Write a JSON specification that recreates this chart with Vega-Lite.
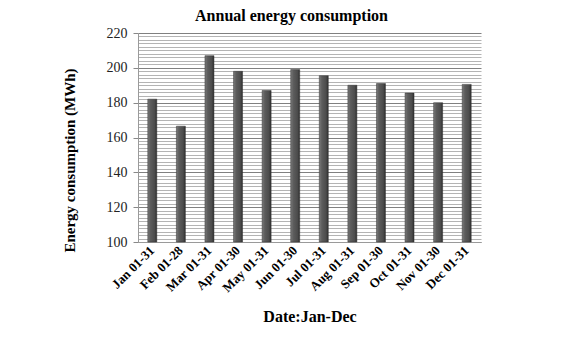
{
  "$schema": "https://vega.github.io/schema/vega-lite/v6.json",
  "width": 343,
  "height": 209,
  "autosize": {"type": "none"},
  "padding": {"left": 138, "top": 33, "right": 89, "bottom": 98},
  "background": "white",
  "title": {
    "text": "Annual energy consumption",
    "font": "Liberation Serif",
    "fontSize": 16,
    "fontWeight": "bold",
    "color": "#000000",
    "anchor": "middle",
    "dx": -18,
    "offset": 2
  },
  "data": {
    "values": [
      {"period": "Jan 01-31", "energy": 182},
      {"period": "Feb 01-28", "energy": 166.5},
      {"period": "Mar 01-31", "energy": 207},
      {"period": "Apr 01-30", "energy": 198},
      {"period": "May 01-31", "energy": 187},
      {"period": "Jun 01-30", "energy": 199},
      {"period": "Jul 01-31", "energy": 195.5},
      {"period": "Aug 01-31", "energy": 190},
      {"period": "Sep 01-30", "energy": 191},
      {"period": "Oct 01-31", "energy": 185.5},
      {"period": "Nov 01-30", "energy": 180},
      {"period": "Dec 01-31", "energy": 190.5}
    ]
  },
  "mark": {
    "type": "bar",
    "size": 9,
    "color": {
      "gradient": "linear",
      "x1": 0, "x2": 1, "y1": 0, "y2": 0,
      "stops": [
        {"offset": 0, "color": "#7a7a7a"},
        {"offset": 0.3, "color": "#5c5c5c"},
        {"offset": 0.75, "color": "#4c4c4c"},
        {"offset": 1, "color": "#2e2e2e"}
      ]
    },
    "stroke": "#333333",
    "strokeWidth": 0.5
  },
  "encoding": {
    "x": {
      "field": "period",
      "type": "nominal",
      "sort": null,
      "scale": {"paddingInner": 0, "paddingOuter": 0},
      "axis": {
        "title": "Date:Jan-Dec",
        "titleFont": "Liberation Serif",
        "titleFontSize": 16,
        "titleFontWeight": "bold",
        "titleColor": "#000000",
        "titlePadding": 14,
        "labelAngle": -45,
        "labelAlign": "right",
        "labelBaseline": "middle",
        "labelFont": "Liberation Serif",
        "labelFontWeight": "bold",
        "labelFontSize": 13,
        "labelColor": "#000000",
        "labelPadding": 6,
        "ticks": false,
        "grid": false,
        "domainColor": "#9a9a9a"
      }
    },
    "y": {
      "field": "energy",
      "type": "quantitative",
      "scale": {"domain": [100, 220], "nice": false, "zero": false},
      "axis": {
        "title": "Energy consumption (MWh)",
        "titleFont": "Liberation Serif",
        "titleFontSize": 15,
        "titleFontWeight": "bold",
        "titleColor": "#000000",
        "titlePadding": 29,
        "titleY": 127,
        "values": [100,102,104,106,108,110,112,114,116,118,120,122,124,126,128,130,132,134,136,138,140,142,144,146,148,150,152,154,156,158,160,162,164,166,168,170,172,174,176,178,180,182,184,186,188,190,192,194,196,198,200,202,204,206,208,210,212,214,216,218,220],
        "labelExpr": "datum.value % 20 === 0 ? datum.label : ''",
        "labelFont": "Liberation Serif",
        "labelFontSize": 14,
        "labelColor": "#222222",
        "labelPadding": 6,
        "labelOverlap": false,
        "tickSize": 5,
        "tickColor": "#888888",
        "tickOpacity": {"condition": {"test": "datum.value % 20 === 0", "value": 1}, "value": 0},
        "domainColor": "#9a9a9a",
        "grid": true,
        "gridColor": {"condition": {"test": "datum.value % 20 === 0", "value": "#808080"}, "value": "#b4b4b4"},
        "gridWidth": 1
      }
    },
    "y2": {"datum": 100}
  },
  "config": {"view": {"stroke": null}}
}
